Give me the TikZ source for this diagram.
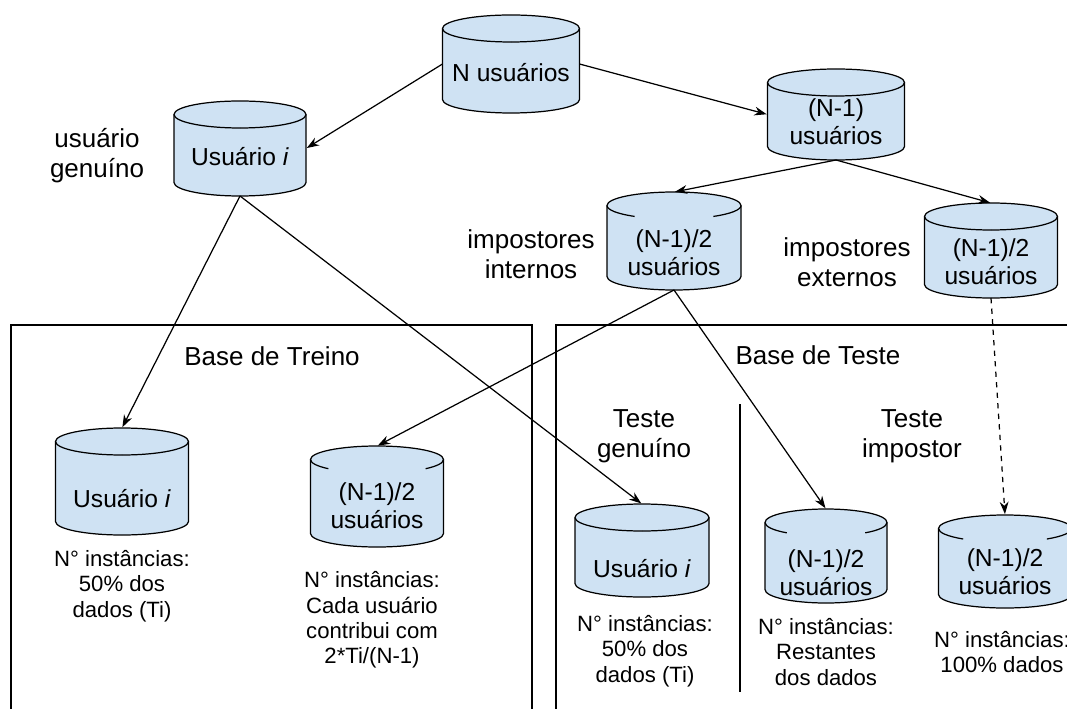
\documentclass[tikz,border=0pt]{standalone}
\usepackage{fontspec}
\setmainfont{Liberation Sans}
\usetikzlibrary{arrows.meta}
\definecolor{dbfill}{HTML}{CFE2F3}
\newcommand{\pxu}{0.02cm}
\newcommand{\dbry}{0.27cm}
% [gap angle]{name}{x}{top}{bottom}{width}{text y}{text}
\newcommand{\dbcyl}[8][0]{%
  \node[dbbody, minimum width=#6*\pxu, minimum height={(#5-#4)*\pxu}] (#2) at (#3,{(#4+#5)/2}) {};
  \filldraw[dbline] ([yshift=-\dbry]#2.north west) -- ([yshift=\dbry]#2.south west)
    arc[start angle=180, end angle=360, x radius=#6*\pxu/2, y radius=\dbry]
    -- ([yshift=-\dbry]#2.north east)
    arc[start angle=0, end angle=180, x radius=#6*\pxu/2, y radius=\dbry] -- cycle;
  \draw ([yshift=-\dbry]#2.north west) arc[start angle=180, end angle={270-#1}, x radius=#6*\pxu/2, y radius=\dbry];
  \draw ([yshift=-\dbry]#2.north east) arc[start angle=0, end angle={-90+#1}, x radius=#6*\pxu/2, y radius=\dbry];
  \node[dbtext] at (#3,#7) {#8};
}

\begin{document}
\begin{tikzpicture}[x=0.02cm, y=-0.02cm, line width=0.7pt,
    >={Stealth[length=7pt,width=5pt]},
    dbbody/.style={inner sep=0pt, outer sep=0pt},
    dbline/.style={draw=black, fill=dbfill},
    dbtext/.style={align=center, inner sep=1pt, font=\fontsize{14}{15.8}\selectfont},
    lbl/.style={align=center, font=\fontsize{14.8}{17}\selectfont},
    note/.style={align=center, font=\fontsize{12.6}{14.5}\selectfont},
    link/.style={->, shorten >=0.5pt}
    ]
\useasboundingbox (0,0) rectangle (1067,709);
\clip (0,0) rectangle (1067,709);
% bases
\draw (11,325) rectangle (532,740);
\draw (556,325) rectangle (1100,740);
\draw (740,404) -- (740,692);
% cylinders
\dbcyl{nall}{511}{15}{113}{137}{73}{N usuários}
\dbcyl{usertop}{240}{101}{196}{132}{157}{Usuário \textit{i}}
\dbcyl{rest}{836}{69}{160}{137}{122}{(N-1)\\usuários}
\dbcyl[36]{intimp}{674}{192}{290}{134}{253}{(N-1)/2\\usuários}
\dbcyl{extimp}{991}{203}{298}{133}{262}{(N-1)/2\\usuários}
\dbcyl{trainuser}{122}{428}{535}{133}{499}{Usuário \textit{i}}
\dbcyl[47]{trainimp}{377}{446}{547}{133}{506}{(N-1)/2\\usuários}
\dbcyl{testuser}{642}{504}{597}{134}{569}{Usuário \textit{i}}
\dbcyl[40]{testimp}{826}{509}{603}{122}{573}{(N-1)/2\\usuários}
\dbcyl[39]{testimpr}{1005}{515}{608}{133}{572}{(N-1)/2\\usuários}
% labels
\node[lbl] (genlbl) at (97,156) {usuário\\genuíno};
\node[lbl] (intlbl) at (531,254) {impostores\\internos};
\node[lbl] (extlbl) at (847,262) {impostores\\externos};
\node[lbl] (trainttl) at (272,356) {Base de Treino};
\node[lbl] (testttl) at (818,355) {Base de Teste};
\node[lbl] (genttl) at (644,436) {Teste\\genuíno};
\node[lbl] (impttl) at (912,436) {Teste\\impostor};
% notes
\node[note] (trainusernote) at (122,586) {N° instâncias:\\50\% dos\\dados (Ti)};
\node[note] (trainimpnote) at (372,620) {N° instâncias:\\Cada usuário\\contribui com\\2*Ti/(N-1)};
\node[note] (testusernote) at (645,651) {N° instâncias:\\50\% dos\\dados (Ti)};
\node[note] (testimpnote) at (826,652) {N° instâncias:\\Restantes\\dos dados};
\node[note] (testimprnote) at (1002,652) {N° instâncias:\\100\% dados};
% links
\draw[link] (nall.west) -- (usertop.east);
\draw[link] (nall.east) -- (rest.west);
\draw[link] (rest.south) -- (intimp.north);
\draw[link] (rest.south) -- (extimp.north);
\draw[link] (usertop.south) -- (trainuser.north);
\draw[link] (usertop.south) -- (testuser.north);
\draw[link] (intimp.south) -- (trainimp.north);
\draw[link] (intimp.south) -- (testimp.north);
\draw[link, dashed] (extimp.south) -- (testimpr.north);
\end{tikzpicture}
\end{document}
